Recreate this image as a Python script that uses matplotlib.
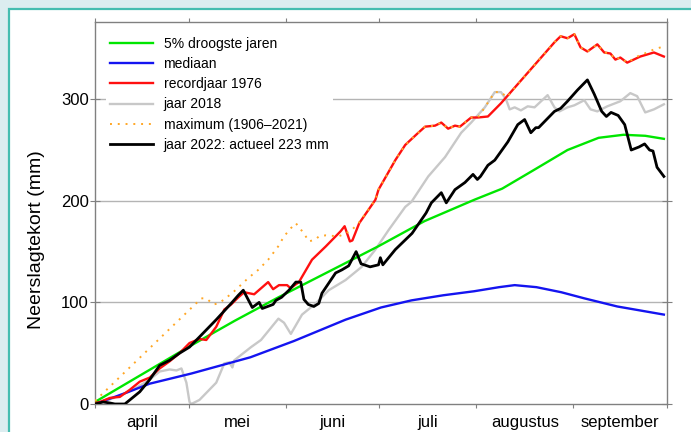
import numpy as np
import matplotlib
matplotlib.use("Agg")
import matplotlib.pyplot as plt
from matplotlib.patches import Rectangle

plt.rcParams['font.family'] = ['Liberation Sans', 'DejaVu Sans']

# ---- data (x = days since 1 April) ----
months = ["april", "mei", "juni", "juli", "augustus", "september"]
month_days = [30, 31, 30, 31, 31, 30]

green_x = [0, 15, 30, 45, 59, 75, 91, 106, 122, 131, 141, 152, 162, 170, 177, 183]
green_y = [2, 29, 56, 82, 105, 130, 155, 180, 201, 212, 230, 250, 262, 265, 264, 261]

blue_x = [0, 10, 17.6, 31, 50, 64, 80.6, 92, 101.8, 112, 122, 130, 135, 142, 150, 157.4, 168, 183]
blue_y = [0, 11, 20, 30, 46, 62, 83, 95, 102, 107, 111, 115, 117, 115, 110, 104, 96, 88]

red_x = [0, 1.6, 4.8, 8, 11.2, 14.4, 17.6, 20.8, 24, 27.2, 30.4, 33.6, 35.8, 39, 41.6, 43.8,
         46.1, 48, 51.2, 55.7, 57.3, 59.2, 61.8, 62.9, 65.6, 69.8, 74.2, 79, 80.3, 82, 82.8,
         85, 90.2, 91.2, 96.6, 99.8, 104, 106.2, 109.4, 111.4, 113.6, 115.8, 117.4, 121,
         123.2, 126.4, 130.6, 139.2, 147.8, 149.8, 152, 154.2, 156.2, 158.4, 161.6, 163.8,
         165.8, 167.4, 169, 171.2, 175.4, 177.6, 179.8, 183]
red_y = [1, 2, 6, 7, 14, 22, 26, 35, 42, 50, 60, 64, 63, 76, 93, 98,
         105, 110, 108, 120, 113, 117, 117, 114, 120, 142, 155, 170, 175, 160, 161,
         178, 201, 211, 240, 255, 267, 273, 274, 277, 271, 274, 273, 282,
         282, 283, 296, 326, 356, 362, 360, 364, 351, 347, 354, 346,
         345, 339, 341, 336, 342, 344, 346, 342]

gray_x = [0, 1.6, 6, 12.2, 17.6, 20.8, 24, 26.2, 27.8, 29.4, 30.4, 31, 33.6, 39, 41.6, 43.2,
          44.2, 44.8, 50.2, 53.4, 59, 60.8, 63, 66.6, 71, 75.2, 80.6, 85.8, 90.2, 94.4, 99.8,
          101.8, 107.2, 112.6, 117.8, 121, 125.4, 128.6, 130.6, 132.2, 133.4, 135, 137,
          139.2, 141.4, 145.6, 147.8, 149.4, 152, 154.2, 157.4, 159.4, 161.6, 164.8, 169,
          172.2, 174.4, 177, 179.8, 183]
gray_y = [1, 1, 6, 14, 24, 32, 34, 33, 35, 21, 2, 0, 4, 21, 40, 41,
          36, 43, 56, 63, 84, 80, 69, 88, 99, 112, 122, 135, 152, 171, 194,
          199, 224, 243, 267, 277, 292, 307, 307, 300, 290, 292, 289,
          293, 292, 304, 292, 288, 292, 294, 299, 290, 288, 293, 298,
          306, 303, 287, 290, 295]

max_x = [0, 34.2, 35.8, 38.1, 39.7, 41.6, 44.8, 49.3, 52.5, 55.7, 58.9, 60.8, 63, 64.6, 65.6,
         67.2, 68.8, 71, 72, 74.2, 78.4, 80.6, 82.5, 84.8, 90.2, 91.2, 96.6, 99.8, 104, 106.2,
         109.4, 111.4, 113.6, 115.8, 117.4, 121, 123.2, 125.4, 128.6, 130.6, 132.5, 139.2,
         147.8, 149.8, 152, 154.2, 156.2, 158.4, 161.6, 163.8, 165.8, 167.4, 169, 171.2,
         174.4, 177.6, 179.8, 183]
max_y = [3, 104, 104, 98, 99, 103, 111, 124, 132, 142, 155, 165, 173, 178, 174,
         168, 160, 162, 165, 166, 165, 168, 171, 178, 201, 211, 240, 255, 267, 273,
         274, 277, 271, 274, 273, 282, 282, 292, 307, 307, 302, 326,
         356, 362, 360, 364, 351, 347, 354, 346, 345, 339, 341, 336,
         342, 346, 349, 352]

black_x = [0, 2.6, 4.8, 6.4, 9.6, 11.2, 14.4, 17.6, 20.8, 24, 27.2, 30.4, 33.6, 39, 43.8,
           46.1, 47.7, 50.6, 52.8, 53.8, 57.3, 58.2, 60, 62.4, 64.6, 66.2, 67.2, 68.6, 70.4,
           72, 73, 77.4, 79.4, 81.6, 84, 85.6, 88.5, 91.2, 91.8, 92.6, 96.6, 102, 106.5,
           108.2, 111.4, 113, 115.8, 119, 121.6, 123, 124, 126.4, 128.6, 132.8, 136, 138.2,
           140.2, 141.8, 142.7, 147.8, 149.8, 152, 155.2, 158.4, 160.6, 163, 164.5, 166,
           168.3, 170.4, 172.5, 175, 176.8, 178.4, 179.5, 180.8, 183]
black_y = [0, 2, 1, 0, 0, 4, 12, 24, 38, 43, 50, 56, 66, 83, 99,
           107, 112, 95, 100, 94, 98, 102, 105, 112, 120, 120, 103, 98, 96,
           99, 109, 129, 132, 136, 150, 138, 135, 137, 144, 137, 152, 168, 188,
           198, 208, 198, 211, 218, 226, 221, 224, 235, 240, 258, 275, 280,
           267, 272, 272, 288, 291, 298, 309, 319, 305, 288, 283, 287,
           284, 275, 250, 253, 256, 250, 249, 233, 224]

# ---- figure ----
fig = plt.figure(figsize=(6.91, 4.32), dpi=100)
fig.patch.set_facecolor('#dcedf0')
panel = Rectangle((9 / 691, -0.2), 1.2, 1.2 - 9 / 432, transform=fig.transFigure,
                  facecolor='white', edgecolor='#45bdb0', linewidth=1.6, zorder=-5)
fig.add_artist(panel)

ax = fig.add_axes([95 / 691, 1 - 404 / 432, 572 / 691, 382 / 432])
ax.set_zorder(2)
ax.set_facecolor('white')

for yv in [100, 200, 300]:
    ax.axhline(yv, color='#b4b4b4', linewidth=1.0, zorder=1)

l_gray, = ax.plot(gray_x, gray_y, color='#c8c8c8', linewidth=1.7, zorder=2, label='jaar 2018')
l_green, = ax.plot(green_x, green_y, color='#00e600', linewidth=1.7, zorder=3, label='5% droogste jaren')
l_blue, = ax.plot(blue_x, blue_y, color='#1414f0', linewidth=1.7, zorder=3, label='mediaan')
l_red, = ax.plot(red_x, red_y, color='#ff1010', linewidth=1.7, zorder=4, label='recordjaar 1976')
l_max, = ax.plot(max_x, max_y, color='#ffa726', linewidth=1.4, linestyle=(0, (1, 3)),
                 zorder=5, label='maximum (1906\u20132021)')
l_black, = ax.plot(black_x, black_y, color='black', linewidth=2.0, zorder=6,
                   label='jaar 2022: actueel 223 mm')

ax.set_xlim(0, 183)
ax.set_ylim(0, 376)

edges = np.concatenate([[0], np.cumsum(month_days)]) * 183 / 182
mids = (edges[:-1] + edges[1:]) / 2
ax.set_xticks(edges)
ax.set_xticklabels([])
ax.set_xticks(mids, minor=True)
ax.set_xticklabels(months, minor=True, fontsize=12)
ax.tick_params(axis='x', which='minor', length=0, pad=8)
ax.tick_params(axis='x', which='major', direction='out', length=3, color='#808080',
               top=True, bottom=True)
ax.set_yticks([0, 100, 200, 300])
ax.set_yticklabels(['0', '100', '200', '300'], fontsize=12)
ax.tick_params(axis='y', which='major', direction='inout', length=7, color='#808080',
               left=True, right=False, pad=1)
ax.tick_params(axis='y', which='major', right=True)

for s in ax.spines.values():
    s.set_color('#808080')
    s.set_linewidth(1.0)

ax.set_ylabel('Neerslagtekort (mm)', fontsize=14)
ax.yaxis.set_label_coords(-0.088, 0.43)

leg = ax.legend(handles=[l_green, l_blue, l_red, l_gray, l_max, l_black],
                loc='upper left', bbox_to_anchor=(0.019, 0.972), borderaxespad=0,
                fontsize=10, frameon=True, facecolor='white', edgecolor='none',
                framealpha=1.0, fancybox=False, borderpad=0.3,
                handlelength=3.1, handletextpad=0.75, labelspacing=0.445)
leg.get_frame().set_linewidth(0)
leg.set_zorder(7)

fig.savefig('out.png', dpi=100, facecolor=fig.get_facecolor())
